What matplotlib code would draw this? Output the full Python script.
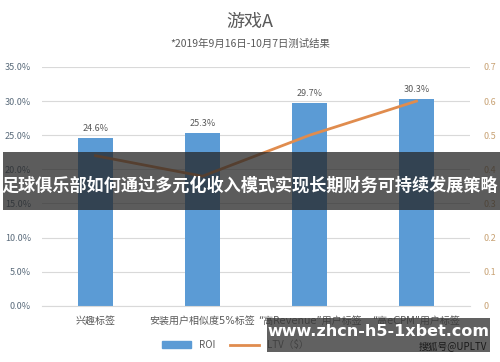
import matplotlib
matplotlib.use('Agg')
import matplotlib.pyplot as plt
from matplotlib.patches import Patch, Rectangle
from matplotlib.lines import Line2D
from matplotlib.ticker import FuncFormatter

plt.rcParams['font.family'] = ['Noto Sans CJK SC', 'DejaVu Sans']

# data
categories = ['兴趣标签', '安装用户相似度5%标签', '“高Revenue”用户标签', '“高eCPM”用户标签']
roi = [0.246, 0.253, 0.297, 0.303]
ltv = [0.44, 0.38, 0.50, 0.60]
left_ticks = [0, 0.05, 0.10, 0.15, 0.20, 0.25, 0.30, 0.35]
right_ticks = [0, 0.1, 0.2, 0.3, 0.4, 0.5, 0.6, 0.7]

BAR_COLOR = '#5B9BD5'
LINE_COLOR = '#E08C4E'

fig = plt.figure(figsize=(5, 3.62), dpi=100)
ax = fig.add_axes([0.084, 0.155, 0.856, 0.66])
x = list(range(len(categories)))

ax.bar(x, roi, width=0.32, color=BAR_COLOR, zorder=2)
for xi, v in zip(x, roi):
    ax.text(xi, v + 0.008, '%.1f%%' % (v * 100), ha='center', va='bottom',
            fontsize=6.5, color='#595959')

ax.set_ylim(0, 0.35)
ax.set_xlim(-0.5, len(categories) - 0.5)
ax.set_yticks(left_ticks)
ax.yaxis.set_major_formatter(FuncFormatter(lambda v, p: '%.1f%%' % (v * 100)))
ax.grid(axis='y', color='#d9d9d9', linewidth=0.8, zorder=0)
ax.set_axisbelow(True)
ax.set_xticks(x)
ax.set_xticklabels(categories, fontsize=7.2, color='#595959')
# narrow quotes come from DejaVu, CJK from Noto
for lbl in ax.get_xticklabels():
    lbl.set_family(['DejaVu Sans', 'Noto Sans CJK SC'])
ax.tick_params(axis='y', length=0, pad=8, labelsize=6.5, labelcolor='#5a6b7b')
ax.tick_params(axis='x', length=0, pad=7)
for s in ['top', 'left', 'right']:
    ax.spines[s].set_visible(False)
ax.spines['bottom'].set_color('#d9d9d9')

ax2 = ax.twinx()
ax2.plot(x, ltv, color=LINE_COLOR, linewidth=2, zorder=3)
ax2.set_ylim(0, 0.7)
ax2.set_yticks(right_ticks)
ax2.set_yticklabels(['0'] + ['%.1f' % t for t in right_ticks[1:]])
ax2.tick_params(axis='y', length=0, pad=10, labelsize=6.5, labelcolor='#c8a274')
for s in ax2.spines.values():
    s.set_visible(False)

fig.text(0.5, 0.94, '游戏A', ha='center', va='center', fontsize=13, color='#595959')
fig.text(0.5, 0.88, '*2019年9月16日-10月7日测试结果', ha='center', va='center',
         fontsize=7.5, color='#595959')

handles = [Patch(color=BAR_COLOR), Line2D([0], [0], color=LINE_COLOR, linewidth=2)]
fig.legend(handles, ['ROI', 'LTV（$）'], loc='center', bbox_to_anchor=(0.47, 0.047),
           ncol=2, frameon=False, fontsize=7, labelcolor='#595959',
           handlelength=3, handleheight=0.6, columnspacing=1.5)

# overlay banner and watermark
fig.patches.append(Rectangle((0.006, 0.42), 0.994, 0.16, transform=fig.transFigure,
                             facecolor='#262626', alpha=0.75, zorder=10))
fig.text(0.5, 0.487, '足球俱乐部如何通过多元化收入模式实现长期财务可持续发展策略',
         ha='center', va='center', fontsize=12.3, fontweight='bold',
         color='white', zorder=11)
fig.patches.append(Rectangle((0.534, 0.028), 0.446, 0.093, transform=fig.transFigure,
                             facecolor='#3a3a3a', alpha=0.8, zorder=10))
fig.text(0.757, 0.083, 'www.zhcn-h5-1xbet.com', ha='center', va='center',
         fontsize=11.5, fontweight='bold', color='white', family='DejaVu Sans', zorder=11)
fig.text(0.975, 0.045, '搜狐号@UPLTV', ha='right', va='center',
         fontsize=7, color='#1a1a1a', zorder=12)

fig.savefig('out.png', dpi=100)
